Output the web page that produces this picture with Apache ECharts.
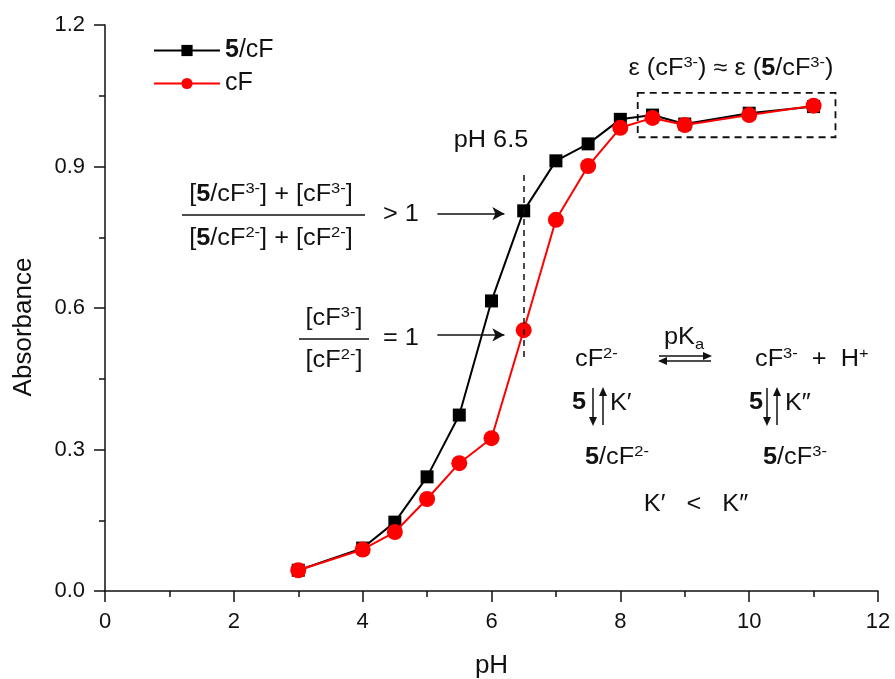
<!DOCTYPE html>
<html>
<head>
<meta charset="utf-8">
<script src="https://cdn.jsdelivr.net/npm/echarts@6/dist/echarts.min.js"></script>
<style>
  html, body { margin: 0; padding: 0; background: #fff; }
  #chart { width: 895px; height: 679px; }
</style>
</head>
<body>
<div id="chart"></div>
<script>
'use strict';

// data
const phValues = [3, 4, 4.5, 5, 5.5, 6, 6.5, 7, 7.5, 8, 8.5, 9, 10, 11]
const absComplex = [0.044, 0.091, 0.146, 0.242, 0.373, 0.615, 0.806, 0.912, 0.948, 1.0, 1.009, 0.99, 1.013, 1.027]
const absFree = [0.044, 0.088, 0.125, 0.195, 0.271, 0.324, 0.553, 0.787, 0.901, 0.982, 1.003, 0.988, 1.009, 1.029]
const seriesNames = ['5/cF', 'cF']

const FONT = '"Liberation Sans", Arial, sans-serif'
const FS = 23
const STRETCH = 1.1   // the original figure is a little wider than tall

const RICH = {
    n: { fontSize: FS, fontFamily: FONT, lineHeight: 28, verticalAlign: 'middle', color: '#111' },
    b: { fontSize: FS, fontFamily: FONT, fontWeight: 'bold', lineHeight: 28, verticalAlign: 'middle', color: '#111' },
    sup: { fontSize: 15, fontFamily: FONT, lineHeight: 15, verticalAlign: 'top', color: '#111' },
    sub: { fontSize: 15, fontFamily: FONT, lineHeight: 12, verticalAlign: 'bottom', color: '#111' }
}

function txt(x, y, text, align) {
    return {
        type: 'text', x: x, y: y, scaleX: STRETCH, silent: true,
        style: { text: text, rich: RICH, align: align || 'left', verticalAlign: 'middle', fill: '#111', font: FS + 'px ' + FONT }
    }
}
function hline(x1, x2, y) {
    return { type: 'line', silent: true, shape: { x1: x1, y1: y, x2: x2, y2: y }, style: { stroke: '#111', lineWidth: 1.5 } }
}
function vline(x, y1, y2) {
    return { type: 'line', silent: true, shape: { x1: x, y1: y1, x2: x, y2: y2 }, style: { stroke: '#111', lineWidth: 1.5 } }
}
// small arrow head with its tip at (x,y)
function head(x, y, dir) {
    let pts
    if (dir === 'r') pts = [[x, y], [x - 9, y - 4], [x - 9, y + 4]]
    if (dir === 'l') pts = [[x, y], [x + 9, y - 4], [x + 9, y + 4]]
    if (dir === 'u') pts = [[x, y], [x - 4, y + 9], [x + 4, y + 9]]
    if (dir === 'd') pts = [[x, y], [x - 4, y - 9], [x + 4, y - 9]]
    return { type: 'polygon', silent: true, shape: { points: pts }, style: { fill: '#111' } }
}

const graphics = [
    txt(731, 69, '{n|ε (cF}{sup|3-}{n|) ≈ ε (}{b|5}{n|/cF}{sup|3-}{n|)}', 'center'),
    txt(491, 141, '{n|pH 6.5}', 'center'),
    // first fraction
    txt(271, 195, '{n|[}{b|5}{n|/cF}{sup|3-}{n|] + [cF}{sup|3-}{n|]}', 'center'),
    hline(182, 365, 215),
    txt(271, 239, '{n|[}{b|5}{n|/cF}{sup|2-}{n|] + [cF}{sup|2-}{n|]}', 'center'),
    txt(383, 215, '{n|> 1}'),
    // second fraction
    txt(334, 319, '{n|[cF}{sup|3-}{n|]}', 'center'),
    hline(299, 369, 339),
    txt(334, 361, '{n|[cF}{sup|2-}{n|]}', 'center'),
    txt(383, 339, '{n|= 1}'),
    // scheme
    txt(575, 360, '{n|cF}{sup|2-}'),
    txt(684, 338, '{n|pK}{sub|a}', 'center'),
    hline(659, 710, 356), head(712, 356, 'r'),
    hline(660, 711, 361), head(658, 361, 'l'),
    txt(755, 360, '{n|cF}{sup|3-}{n|  +  H}{sup|+}'),
    txt(579, 403, '{b|5}', 'center'),
    vline(593, 388, 423), head(593, 426, 'd'),
    vline(603, 390, 425), head(603, 387, 'u'),
    txt(610, 404, '{n|K′}'),
    txt(756, 403, '{b|5}', 'center'),
    vline(767, 388, 423), head(767, 426, 'd'),
    vline(777, 390, 425), head(777, 387, 'u'),
    txt(785, 404, '{n|K″}'),
    txt(585, 458, '{b|5}{n|/cF}{sup|2-}'),
    txt(763, 458, '{b|5}{n|/cF}{sup|3-}'),
    txt(696, 505, '{n|K′   <   K″}', 'center')
]

const chart = echarts.init(document.getElementById('chart'), null, { renderer: 'canvas' })

const axisCommon = {
    axisLine: { show: true, onZero: false, lineStyle: { color: '#111', width: 1.5 } },
    axisTick: { show: true, inside: false, length: 11, lineStyle: { color: '#111', width: 1.5 } },
    minorTick: { show: true, splitNumber: 2, length: 6, lineStyle: { color: '#111', width: 1.5 } },
    splitLine: { show: false },
    axisLabel: { color: '#111', fontFamily: FONT, fontSize: 22 },
    nameTextStyle: { color: '#111', fontFamily: FONT, fontSize: 26 }
}

chart.setOption({
    animation: false,
    backgroundColor: '#fff',
    grid: { left: 105, right: 17, top: 25, bottom: 88, containLabel: false, outerBoundsMode: 'none' },
    legend: {
        orient: 'vertical', left: 148, top: 33,
        itemWidth: 66, itemHeight: 14, itemGap: 8,
        data: seriesNames,
        formatter: function (name) { return name === '5/cF' ? '{b|5}{n|/cF}' : '{n|cF}' },
        textStyle: {
            fontFamily: FONT, fontSize: 25, color: '#111',
            rich: {
                n: { fontFamily: FONT, fontSize: 25, color: '#111' },
                b: { fontFamily: FONT, fontSize: 25, fontWeight: 'bold', color: '#111' }
            }
        }
    },
    xAxis: Object.assign({}, axisCommon, {
        type: 'value', min: 0, max: 12, interval: 2,
        name: 'pH', nameLocation: 'middle', nameGap: 62,
        axisLabel: Object.assign({}, axisCommon.axisLabel, { margin: 20 })
    }),
    yAxis: Object.assign({}, axisCommon, {
        type: 'value', min: 0, max: 1.2, interval: 0.3,
        name: 'Absorbance', nameLocation: 'middle', nameGap: 68, nameRotate: 90,
        nameTextStyle: Object.assign({}, axisCommon.nameTextStyle, { padding: [0, 38, 0, 0] }),
        axisLabel: Object.assign({}, axisCommon.axisLabel, {
            margin: 20,
            formatter: function (v) { return v.toFixed(1) }
        })
    }),
    series: [
        {
            name: seriesNames[0], type: 'line',
            data: phValues.map((p, i) => [p, absComplex[i]]),
            symbol: 'rect', symbolSize: 13,
            lineStyle: { color: '#000', width: 2 },
            itemStyle: { color: '#000' },
            z: 3,
            markLine: {
                silent: true, symbol: ['none', 'none'], label: { show: false },
                lineStyle: { color: '#111', width: 1.5, type: [6, 5] },
                data: [[{ coord: [6.5, 0.496] }, { coord: [6.5, 0.882] }]]
            },
            markArea: {
                silent: true, label: { show: false },
                itemStyle: { color: 'rgba(0,0,0,0)', borderColor: '#111', borderWidth: 1.8, borderType: [7, 5] },
                data: [[{ coord: [8.27, 1.056] }, { coord: [11.34, 0.962] }]]
            }
        },
        {
            name: seriesNames[1], type: 'line',
            data: phValues.map((p, i) => [p, absFree[i]]),
            symbol: 'circle', symbolSize: 16,
            lineStyle: { color: '#ff0000', width: 2 },
            itemStyle: { color: '#ff0000' },
            z: 4,
            markLine: {
                silent: true, label: { show: false },
                symbol: ['none', 'arrow'], symbolSize: [10, 12],
                lineStyle: { color: '#111', width: 1.5, type: 'solid' },
                data: [
                    [{ coord: [5.16, 0.8] }, { coord: [6.2, 0.8] }],
                    [{ coord: [5.16, 0.543] }, { coord: [6.2, 0.543] }]
                ]
            }
        }
    ],
    graphic: graphics
})
</script>
</body>
</html>
